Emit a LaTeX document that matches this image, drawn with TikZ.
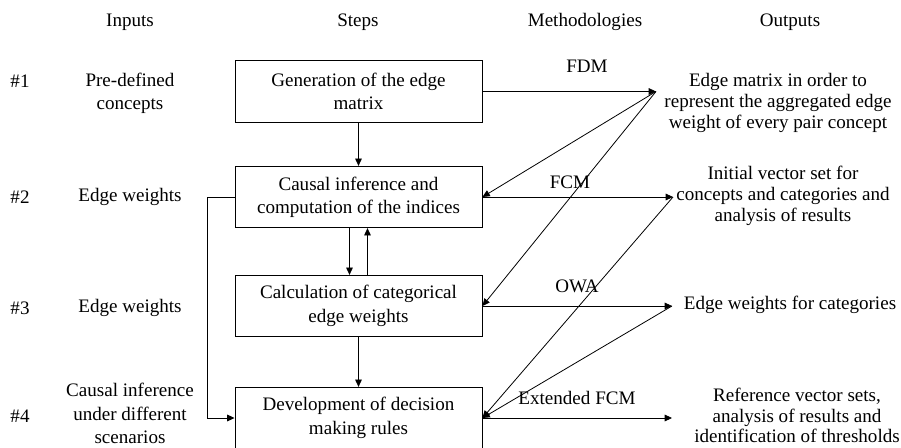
\documentclass[tikz,border=0pt]{standalone}
\usepackage{fontspec}
\setmainfont{Liberation Serif}
\usetikzlibrary{arrows.meta,calc,positioning}

\tikzset{
  stepbox/.style={draw, line width=0.7pt, minimum width=185.25pt, minimum height=46pt, align=center, inner sep=0pt, font=\fontsize{14.3}{17.5}\selectfont},
  lbl/.style={align=center, inner sep=0pt, font=\fontsize{14.3}{17.5}\selectfont},
  outlbl/.style={align=center, inner sep=0pt, font=\fontsize{14.3}{15.6}\selectfont},
  arr/.style={line width=0.6pt, -{Triangle[length=5.5pt,width=5pt]}},
}

\begin{document}
\begin{tikzpicture}[x=0.75pt, y=-0.75pt]
    \useasboundingbox (0,0) rectangle (901,447);
    \clip (0,0) rectangle (901,447);
    \node[lbl] (hin) at (130,22) {Inputs};
    \node[lbl] (hstep) at (358,22) {Steps};
    \node[lbl] (hmeth) at (585,22) {Methodologies};
    \node[lbl] (hout) at (790,22) {Outputs};
    \node[lbl] (n1) at (20,81) {\#1};
    \node[lbl] (n2) at (20,197) {\#2};
    \node[lbl] (n3) at (20,308) {\#3};
    \node[lbl] (n4) at (20,416) {\#4};
    \node[lbl] (in1) at (130,93) {Pre-defined\\concepts};
    \node[lbl] (in2) at (130,197) {Edge weights};
    \node[lbl] (in3) at (130,308) {Edge weights};
    \node[lbl] (in4) at (130,413.5) {Causal inference\\under different\\scenarios};
    \node[stepbox] (box1) at (358.5,91.5) {Generation of the edge\\matrix};
    \node[stepbox] (box2) at (358.5,197) {Causal inference and\\computation of the indices};
    \node[stepbox] (box3) at (358.5,306) {Calculation of categorical\\edge weights};
    \node[stepbox] (box4) at (358.5,418) {Development of decision\\making rules};
    \node[lbl] (fdm) at (587,66) {FDM};
    \node[lbl] (fcm) at (570,182) {FCM};
    \node[lbl] (owa) at (577,286) {OWA};
    \node[lbl] (efcm) at (577,398) {Extended FCM};
    \node[outlbl] (out1) at (778,103) {Edge matrix in order to\\represent the aggregated edge\\weight of every pair concept};
    \node[outlbl] (out2) at (783,196) {Initial vector set for\\concepts and categories and\\analysis of results};
    \node[outlbl] (out3) at (790,305) {Edge weights for categories};
    \node[outlbl] (out4) at (797,415.5) {Reference vector sets,\\analysis of results and\\identification of thresholds};
    \coordinate (p1) at (656,91.5);
    \coordinate (p2) at (673,197);
    \coordinate (p3) at (672,306);
    \coordinate (p4) at (672,418);
    \draw[arr] (box1.south) -- (box2.north);
    \draw[arr] ($(box2.south)+(-9,0)$) -- ($(box3.north)+(-9,0)$);
    \draw[arr] ($(box3.north)+(9,0)$) -- ($(box2.south)+(9,0)$);
    \draw[arr] (box3.south) -- (box4.north);
    \draw[arr] (box2.west) -- ++(-27,0) |- (box4.west);
    \draw[arr] (box1.east) -- (p1);
    \draw[arr] (p1) -- (box2.east);
    \draw[arr] (p1) -- (box3.east);
    \draw[arr] (box2.east) -- (p2);
    \draw[arr] (p2) -- (box4.east);
    \draw[arr] (box3.east) -- (p3);
    \draw[arr] (p3) -- (box4.east);
    \draw[arr] (box4.east) -- (p4);
\end{tikzpicture}
\end{document}
